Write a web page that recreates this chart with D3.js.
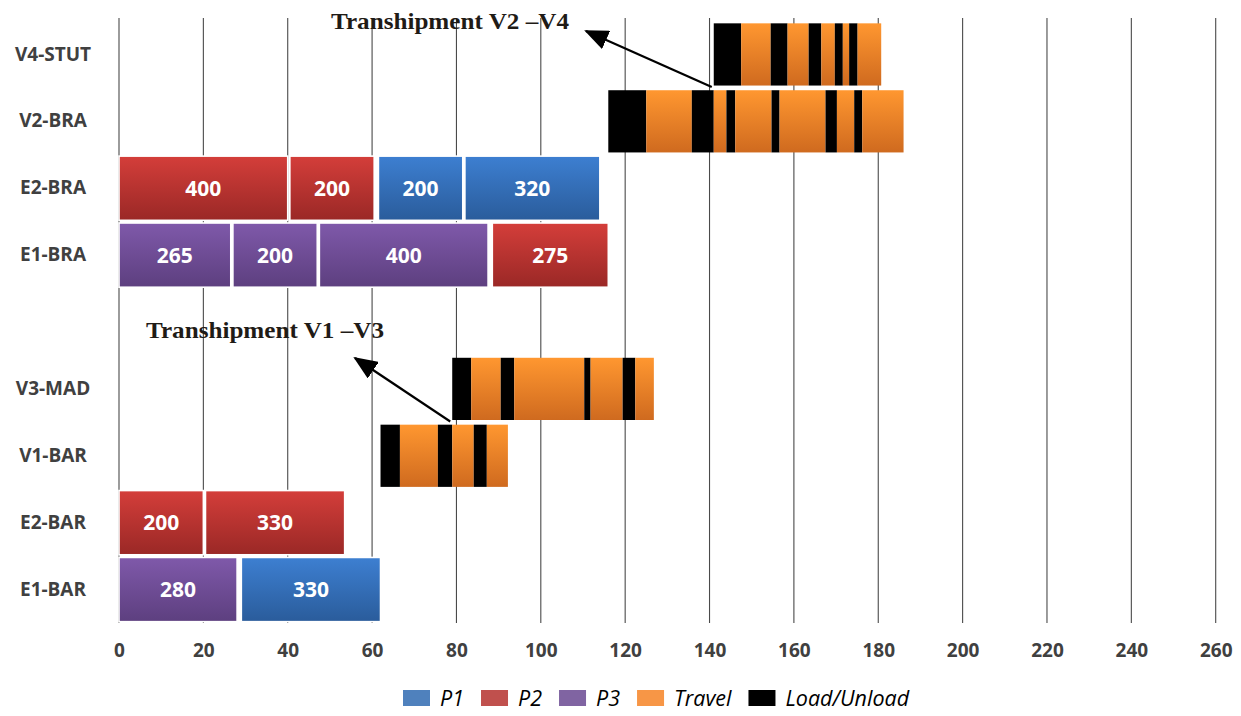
<!DOCTYPE html>
<html>
<head>
<meta charset="utf-8">
<script src="https://cdn.jsdelivr.net/npm/d3@7"></script>
<style>
  html, body { margin: 0; padding: 0; background: #fff; }
  svg { display: block; }
</style>
</head>
<body>
<svg id="chart" width="1241" height="716"></svg>
<script>
// Schedule rows, top to bottom ("" keeps an empty spacer row)
const rows = ["V4-STUT", "V2-BRA", "E2-BRA", "E1-BRA", "", "V3-MAD", "V1-BAR", "E2-BAR", "E1-BAR"];
const xTicks = [0, 20, 40, 60, 80, 100, 120, 140, 160, 180, 200, 220, 240, 260];

// Production batches per machine: [product, start time, quantity]
const batchesE1BAR = [["P3", 0, 280], ["P1", 29, 330]];
const batchesE2BAR = [["P2", 0, 200], ["P2", 20.5, 330]];
const batchesE1BRA = [["P3", 0, 265], ["P3", 27, 200], ["P3", 47.5, 400], ["P2", 88.5, 275]];
const batchesE2BRA = [["P2", 0, 400], ["P2", 40.5, 200], ["P1", 61.5, 200], ["P1", 82, 320]];
const unitsPerTime = 10;   // batch duration = quantity / unitsPerTime

// Vessel event times; segments alternate Load/Unload, Travel, Load/Unload, ...
const eventsV1BAR = [62, 66.6, 75.6, 79, 84.1, 87.2, 92.2];
const eventsV3MAD = [79, 83.5, 90.5, 93.7, 110.3, 111.8, 119.4, 122.4, 126.8];
const eventsV2BRA = [116, 125, 135.8, 141, 144, 146.1, 154.7, 156.6, 167.5, 170.2, 174.3, 176.2, 186];
const eventsV4STUT = [141, 147.5, 154.5, 158.5, 163.5, 166.5, 169.7, 171.6, 173.1, 175.1, 180.7];

const legendKeys = ["P1", "P2", "P3", "Travel", "Load/Unload"];

// Transhipment notes: [label, event time, vessel row the arrow leaves from]
const transhipments = [["Transhipment V2 \u2013V4", 141, "V4-STUT"], ["Transhipment V1 \u2013V3", 79, "V3-MAD"]];

const flatColor = { P1: "#4f81bd", P2: "#c0504d", P3: "#8064a2", Travel: "#f79646", "Load/Unload": "#000000" };
const gradStops = {
  P1: ["#3d7fd1", "#2a5c9b"],
  P2: ["#d43e3a", "#9a2826"],
  P3: ["#7f59aa", "#5d3f7f"],
  Travel: ["#ff9730", "#cf6a1f"]
};

const svg = d3.select("#chart");

const x = d3.scaleLinear().domain([0, 260]).range([119, 1215.7]);
const y = d3.scaleBand().domain(rows).range([21, 623]).paddingInner(0.04).paddingOuter(0.02);

// Vertical gradients for the bar fills
const defs = svg.append("defs");
Object.entries(gradStops).forEach(([k, [top, bottom]]) => {
  const g = defs.append("linearGradient")
    .attr("id", "g-" + k).attr("x1", 0).attr("y1", 0).attr("x2", 0).attr("y2", 1);
  g.append("stop").attr("offset", "0%").attr("stop-color", top);
  g.append("stop").attr("offset", "100%").attr("stop-color", bottom);
});
defs.append("marker")
  .attr("id", "arrowhead")
  .attr("markerUnits", "userSpaceOnUse")
  .attr("viewBox", "0 0 24 20")
  .attr("refX", 22).attr("refY", 10)
  .attr("markerWidth", 24).attr("markerHeight", 20)
  .attr("orient", "auto")
  .append("path").attr("d", "M0,0 L24,10 L0,20 Z").attr("fill", "#000");

// Vertical gridlines
svg.append("g").selectAll("line").data(xTicks).join("line")
  .attr("x1", d => x(d)).attr("x2", d => x(d))
  .attr("y1", 18).attr("y2", 623)
  .attr("stroke", "#4a4a4a").attr("stroke-width", 1.1);

// X axis labels
const xAxis = d3.axisBottom(x).tickValues(xTicks).tickSize(0).tickPadding(0);
const gx = svg.append("g").attr("transform", "translate(0,643)").call(xAxis);
gx.select(".domain").remove();
gx.selectAll("text")
  .attr("dy", "0.71em")
  .style("font-family", "'Open Sans', sans-serif")
  .style("font-weight", 700)
  .style("font-size", "19px")
  .attr("fill", "#404040");

// Row labels
const yAxis = d3.axisLeft(y).tickSize(0).tickPadding(0);
const gy = svg.append("g").attr("transform", "translate(53,0)").call(yAxis);
gy.select(".domain").remove();
gy.selectAll("text")
  .attr("text-anchor", "middle")
  .style("font-family", "'Open Sans', sans-serif")
  .style("font-weight", 700)
  .style("font-size", "19px")
  .attr("fill", "#404040");

// Production batches
const batchRows = [["E1-BAR", batchesE1BAR], ["E2-BAR", batchesE2BAR], ["E1-BRA", batchesE1BRA], ["E2-BRA", batchesE2BRA]];
const batches = batchRows.flatMap(([row, list]) => list.map(([p, start, qty]) => ({ row, p, start, qty, end: start + qty / unitsPerTime })));

const gb = svg.append("g");
gb.selectAll("rect").data(batches).join("rect")
  .attr("x", d => x(d.start))
  .attr("y", d => y(d.row))
  .attr("width", d => x(d.end) - x(d.start))
  .attr("height", y.bandwidth())
  .attr("fill", d => "url(#g-" + d.p + ")")
  .attr("stroke", "#ffffff").attr("stroke-width", 1.6);
gb.selectAll("text").data(batches).join("text")
  .attr("x", d => (x(d.start) + x(d.end)) / 2)
  .attr("y", d => y(d.row) + y.bandwidth() / 2)
  .attr("dy", "0.36em")
  .attr("text-anchor", "middle")
  .style("font-family", "'Open Sans', sans-serif")
  .style("font-weight", 700)
  .style("font-size", "21px")
  .attr("fill", "#ffffff")
  .text(d => d.qty);

// Vessel voyages
const vesselRows = [["V1-BAR", eventsV1BAR], ["V3-MAD", eventsV3MAD], ["V2-BRA", eventsV2BRA], ["V4-STUT", eventsV4STUT]];
const legs = vesselRows.flatMap(([row, ev]) => d3.pairs(ev).map(([a, b], i) => ({ row, start: a, end: b, kind: i % 2 === 0 ? "Load/Unload" : "Travel" })));
svg.append("g").selectAll("rect").data(legs).join("rect")
  .attr("x", d => x(d.start))
  .attr("y", d => y(d.row) + 1)
  .attr("width", d => x(d.end) - x(d.start))
  .attr("height", y.bandwidth() - 2)
  .attr("fill", d => d.kind === "Travel" ? "url(#g-Travel)" : "#000");

// Transhipment arrows and notes
const noteBox = { "V4-STUT": { tx: 331, ty: 29, ax: 586, ay: 31 }, "V3-MAD": { tx: 146, ty: 338, ax: 355, ay: 358 } };
const gn = svg.append("g");
transhipments.forEach(([label, t, row]) => {
  const b = noteBox[row];
  gn.append("line")
    .attr("x1", x(t) - 2).attr("y1", y(row) + y.bandwidth() + 0.5)
    .attr("x2", b.ax).attr("y2", b.ay)
    .attr("stroke", "#000").attr("stroke-width", 2.2)
    .attr("marker-end", "url(#arrowhead)");
  gn.append("text")
    .attr("x", b.tx).attr("y", b.ty)
    .attr("textLength", 238).attr("lengthAdjust", "spacingAndGlyphs")
    .style("font-family", "'Liberation Serif', serif")
    .style("font-weight", 700)
    .style("font-size", "23px")
    .attr("fill", "#1f1b16")
    .text(label);
});

// Legend
const gl = svg.append("g");
let lx = 403;
legendKeys.forEach(k => {
  gl.append("rect").attr("x", lx).attr("y", 690).attr("width", 27).attr("height", 16).attr("fill", flatColor[k]);
  const t = gl.append("text")
    .attr("x", lx + 37).attr("y", 706)
    .style("font-family", "'Open Sans', sans-serif")
    .style("font-style", "italic")
    .style("font-size", "21.5px")
    .attr("fill", "#000")
    .text(k);
  lx += 37 + t.node().getComputedTextLength() + 17;
});
</script>
</body>
</html>
